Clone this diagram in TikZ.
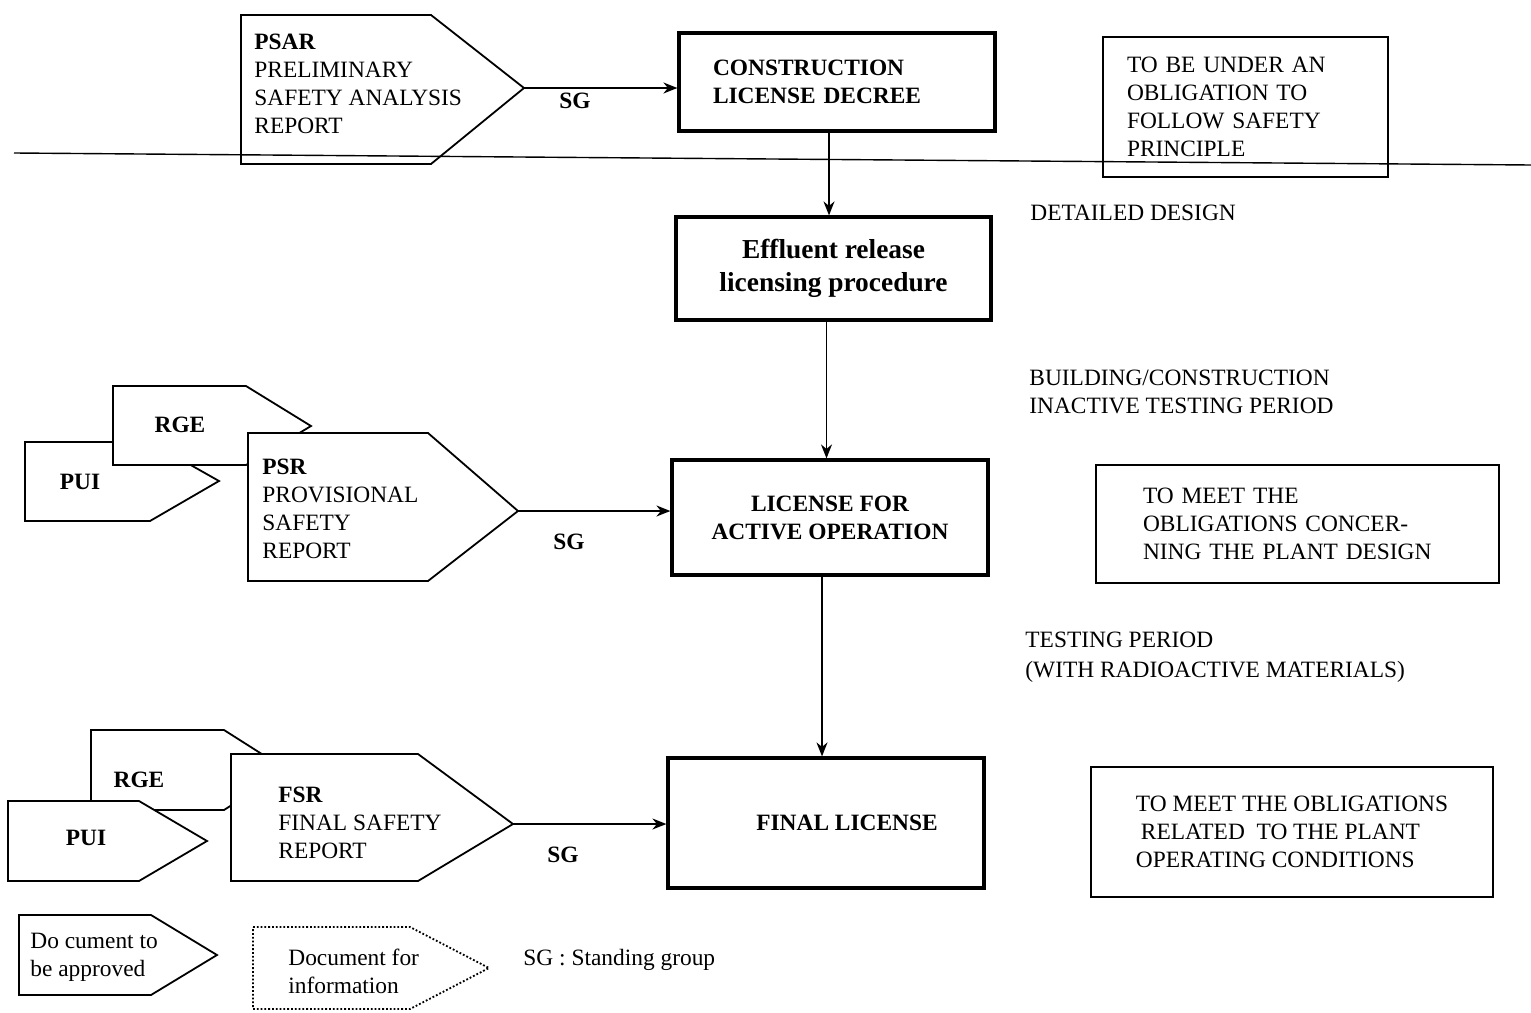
\documentclass[tikz,border=0pt]{standalone}
\usepackage{fontspec}
\setmainfont{Liberation Serif}
\usetikzlibrary{arrows.meta}
% #1 name of tip coordinate, #2 x left, #3 y top, #4 x knee, #5 x tip, #6 y tip, #7 y bottom, #8 style
\newcommand\docpent[8]{%
  \draw[#8] (#2,#3) -- (#4,#3) -- (#5,#6) -- (#4,#7) -- (#2,#7) -- cycle;
  \coordinate (#1) at (#5,#6);}
\begin{document}
\begin{tikzpicture}[x=0.5pt,y=-0.5pt,
  txt/.style={font=\fontsize{11.7}{14}\selectfont, inner sep=0pt, align=left},
  btxt/.style={font=\fontsize{11.7}{14}\selectfont\bfseries, inner sep=0pt, align=center},
  mainbox/.style={draw, line width=1.6pt, font=\fontsize{11.7}{14}\selectfont\bfseries},
  notebox/.style={draw, line width=0.8pt, font=\fontsize{11.7}{14}\selectfont},
  pent/.style={draw, line width=0.9pt, fill=white, line join=miter},
  dpent/.style={draw, line width=0.9pt, densely dotted, fill=white},
  arr/.style={line width=0.9pt, -{Stealth[length=7pt,width=5.5pt]}}]
\useasboundingbox[fill=white] (0,0) rectangle (1531,1012);

% main boxes
\node[mainbox, text width=124pt, inner xsep=17pt, minimum height=49pt, align=left] (cons) at (837,82) {CONSTRUCTION\\LICENSE DECREE};
\node[mainbox, minimum width=157.5pt, minimum height=51.5pt, align=center, font=\fontsize{13.7}{16.5}\selectfont\bfseries] (eff) at (833.5,268.5) {Effluent release\\licensing procedure};
\node[mainbox, minimum width=158pt, minimum height=57.5pt, align=center] (lic) at (830,517.5) {LICENSE FOR\\ACTIVE OPERATION};
\node[mainbox, minimum width=158pt, minimum height=65pt, align=center] (fin) at (826,823) {\hspace*{21pt}FINAL LICENSE};

% note boxes
\node[notebox, text width=118.5pt, inner xsep=12pt, minimum height=70pt, align=left] (n1) at (1245.5,107) {TO BE UNDER AN\\OBLIGATION TO\\FOLLOW SAFETY\\PRINCIPLE};
\node[notebox, text width=154.5pt, inner xsep=23.5pt, minimum height=59pt, align=left] (n2) at (1297.5,524) {TO MEET THE\\OBLIGATIONS CONCER-\\NING THE PLANT DESIGN};
\node[notebox, minimum width=201pt, minimum height=65pt, align=left] (n3) at (1292,832) {TO MEET THE OBLIGATIONS\\\hspace*{2.5pt}RELATED\ \ TO THE PLANT\\OPERATING CONDITIONS};

% annotations
\node[txt, anchor=west] (a1) at (1030,213) {DETAILED DESIGN};
\node[txt, anchor=west] (a2) at (1029,391.5) {BUILDING/CONSTRUCTION\\INACTIVE TESTING PERIOD};
\node[txt, anchor=west, font=\fontsize{11.7}{15}\selectfont] (a3) at (1025,657) {TESTING PERIOD\\(WITH RADIOACTIVE MATERIALS)};

% top document
\docpent{psartip}{241}{15}{431}{524}{88}{164}{pent}
\node[txt, anchor=west] (psar) at (254,84) {\textbf{PSAR}\\PRELIMINARY\\SAFETY ANALYSIS\\REPORT};

% dividing line (drawn over the document and the note box)
\coordinate (lineA) at (14,153);
\coordinate (lineB) at (1531,165);
\draw[line width=0.7pt] (lineA) -- (lineB);

% middle documents
\docpent{pui1tip}{25}{442}{150}{219}{481}{521}{pent}
\node[btxt] (pui1) at (80,482) {PUI};
\docpent{rge1tip}{113}{386}{246}{311}{426}{465}{pent}
\node[btxt] (rge1) at (180,425) {RGE};
\docpent{psrtip}{248}{433}{428}{518}{511}{581}{pent}
\node[txt, anchor=west] (psr) at (262,509) {\textbf{PSR}\\PROVISIONAL\\SAFETY\\REPORT};

% bottom documents
\docpent{rge2tip}{91}{730}{224}{287}{770}{810}{pent}
\node[btxt] (rge2) at (139,780) {RGE};
\docpent{pui2tip}{8}{801}{139}{207}{841}{881}{pent}
\node[btxt] (pui2) at (86,838) {PUI};
\docpent{fsrtip}{231}{754}{418}{513}{824}{881}{pent}
\node[txt, anchor=west] (fsr) at (278,823) {\textbf{FSR}\\FINAL SAFETY\\REPORT};

% horizontal connectors with SG
\draw[arr] (psartip) -- (psartip -| cons.west);
\node[btxt] (sg1) at (575,101) {SG};
\draw[arr] (psrtip) -- (psrtip -| lic.west);
\node[btxt] (sg2) at (569,542) {SG};
\draw[arr] (fsrtip) -- (fsrtip -| fin.west);
\node[btxt] (sg3) at (563,855) {SG};

% vertical connectors
\draw[arr] ([xshift=-4pt]cons.south) -- ([xshift=-4pt]cons.south |- eff.north);
\draw[arr] ([xshift=-3.5pt]eff.south) -- ([xshift=-3.5pt]eff.south |- lic.north);
\draw[arr] ([xshift=-4pt]lic.south) -- ([xshift=-4pt]lic.south |- fin.north);

% legend
\docpent{leg1tip}{19}{915}{151}{217}{955}{995}{pent}
\node[txt, anchor=west] (leg1) at (30,957) {Do cument to\\be approved};
\docpent{leg2tip}{253}{927}{410}{489}{968}{1009}{dpent}
\node[txt, anchor=west] (leg2) at (288,971) {Document for\\information};
\node[txt, anchor=west] (leg3) at (523,960) {SG : Standing group};
\end{tikzpicture}
\end{document}
